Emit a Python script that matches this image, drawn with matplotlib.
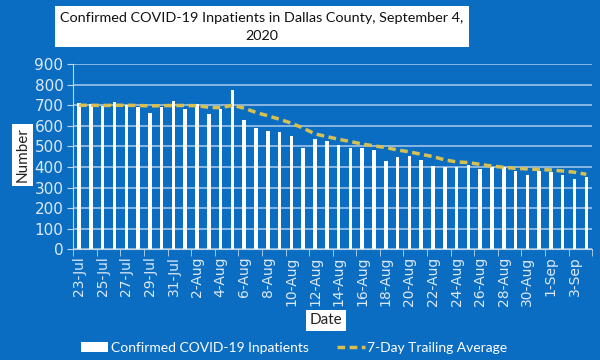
import matplotlib.pyplot as plt
import pandas as pd

# daily inpatients, 23-Jul .. 4-Sep
dates = pd.date_range('2020-07-23', '2020-09-04')
labels = [f'{d.day}-{d.strftime("%b")}' for d in dates]

inpatients = [710, 705, 697, 715, 699, 694, 662, 694, 722, 681, 705, 657, 683, 775,
              629, 589, 574, 569, 551, 495, 537, 527, 508, 491, 493, 483, 430, 448,
              456, 436, 407, 399, 402, 409, 391, 399, 402, 383, 363, 381, 378, 360,
              344, 352]
avg7 = [700, 700, 699, 700, 700, 699, 697, 698, 699, 699, 698, 690, 688, 700,
        686, 665, 649, 632, 613, 589, 561, 548, 535, 524, 512, 503, 495, 483,
        474, 462, 451, 435, 425, 422, 413, 405, 399, 394, 391, 388, 386, 381,
        375, 365]

bg = '#0B6DC2'
txt = '#DCE9F7'

fig = plt.figure(figsize=(6, 3.6), dpi=100, facecolor=bg)
ax = fig.add_axes([0.122, 0.307, 0.865, 0.515], facecolor=bg)
plt.rcParams['font.family'] = ['Lato', 'DejaVu Sans']

x = range(len(dates))
bars = ax.bar(x, inpatients, width=0.3, color='white', zorder=3)
line, = ax.plot(x, avg7, color='#D8C050', lw=2.5, ls=(0, (2.2, 1.3)), zorder=4)

ax.set_ylim(0, 900)
ax.set_yticks(range(0, 1000, 100))
ax.set_xlim(-0.5, len(dates) - 0.5)
ax.set_xticks(list(x)[::2])
ax.set_xticklabels(labels[::2], rotation=90)
ax.set_xticks([i - 0.5 for i in range(0, len(dates) + 1, 2)], minor=True)
ax.tick_params(axis='x', which='major', length=0, labelsize=10, colors=txt, pad=5)
ax.tick_params(axis='x', which='minor', length=5, color='#BDD7EE', direction='out')
ax.tick_params(axis='y', length=4, color='#BDD7EE', labelsize=11, colors=txt, pad=3)
ax.grid(axis='y', color='#9DC3E6', lw=1.2, zorder=0)
for s in ['top', 'right']:
    ax.spines[s].set_visible(False)
ax.spines['left'].set_color('#BDD7EE')
ax.spines['bottom'].set_color('#BDD7EE')

fig.text(0.4367, 0.926, 'Confirmed COVID-19 Inpatients in Dallas County, September 4,\n2020',
         ha='center', va='center', fontsize=10.4, color='#111111', linespacing=1.6,
         bbox=dict(facecolor='white', edgecolor='none', pad=4))
fig.text(0.038, 0.57, 'Number', rotation=90, ha='center', va='center', fontsize=11,
         color='#222222', bbox=dict(facecolor='white', edgecolor='none', pad=2.5))
fig.text(0.543, 0.11, 'Date', ha='center', va='center', fontsize=11,
         color='#222222', bbox=dict(facecolor='white', edgecolor='none', pad=2.5))

fig.legend([bars, line], ['Confirmed COVID-19 Inpatients', '7-Day Trailing Average'],
           loc='center', bbox_to_anchor=(0.49, 0.033), ncol=2, frameon=False,
           fontsize=10, labelcolor='white', handlelength=2, handletextpad=0.2,
           columnspacing=2.0)

fig.savefig('out.png', dpi=100, facecolor=bg)
